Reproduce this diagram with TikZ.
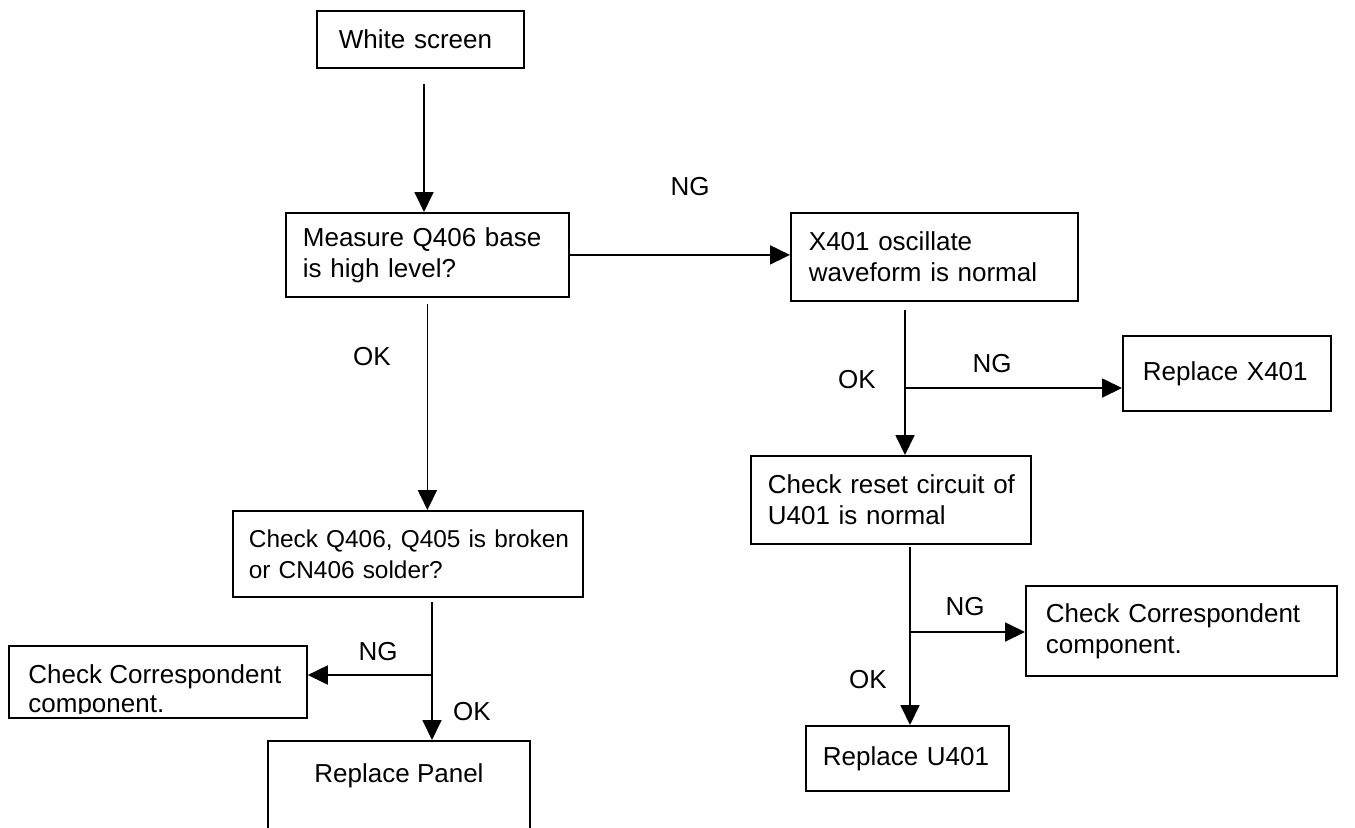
\documentclass[tikz,border=0pt]{standalone}
\usepackage{fontspec}
\setmainfont{Liberation Sans}
\usetikzlibrary{arrows.meta}
\hyphenpenalty=10000

\tikzset{
  stepbox/.style={draw, line width=0.9pt, anchor=north west, align=left, inner ysep=0pt},
  flow/.style={line width=0.9pt, -{Triangle[length=10pt,width=9.5pt]}},
  tag/.style={inner sep=0pt},
}

\begin{document}
\begin{tikzpicture}[x=0.5pt, y=-0.5pt, font=\fontsize{13}{15.5}\selectfont]
  \clip (0,0) rectangle (1355,827);

  % left column
  \node[stepbox, inner xsep=11pt, text width=81.5pt, minimum height=28.5pt] (white) at (316,10) {\mbox{White screen}};
  \node[stepbox, inner xsep=8.5pt, text width=124.5pt, minimum height=42pt] (measure) at (285,212) {\mbox{Measure Q406 base}\\\mbox{is high level?}};
  \node[stepbox, inner xsep=8pt, text width=159pt, minimum height=43pt, font=\fontsize{12.2}{15.5}\selectfont] (chkq) at (232,510) {\mbox{Check Q406, Q405 is broken}\\\mbox{or CN406 solder?}};
  \node[stepbox, minimum width=149pt, minimum height=36pt] (corrL) at (8,645) {};
  \begin{scope}
    \clip (8,645) rectangle (306,713);
    \node[tag, anchor=north west, align=left, font=\fontsize{13}{14.5}\selectfont] (corrLtxt) at (28,664) {\mbox{Check Correspondent}\\\mbox{component.}};
  \end{scope}
  \node[draw, line width=0.9pt, anchor=north, minimum width=131pt, inner ysep=0pt, text height=21pt, text depth=30pt] (panel) at (399,740) {Replace Panel};

  % right column
  \node[stepbox, inner xsep=9pt, text width=125.5pt, minimum height=44pt] (x401) at (790,212) {\mbox{X401 oscillate}\\\mbox{waveform is normal}};
  \node[stepbox, inner xsep=10pt, text width=84pt, minimum height=37.5pt] (repx) at (1122,335) {\mbox{Replace X401}};
  \node[stepbox, inner xsep=8.5pt, text width=123pt, minimum height=44pt] (reset) at (750,455) {\mbox{Check reset circuit of}\\\mbox{U401 is normal}};
  \node[stepbox, inner xsep=10pt, text width=135.5pt, minimum height=45pt] (corrR) at (1025,585) {\mbox{Check Correspondent}\\\mbox{component.}};
  \node[stepbox, inner xsep=8.5pt, text width=84.5pt, minimum height=32.5pt] (repu) at (805,725) {\mbox{Replace U401}};

  % branch points
  \coordinate (b0) at (424,150);
  \coordinate (b1) at (905,388);
  \coordinate (b2) at (910,632);
  \coordinate (b3) at (432,675);

  % connectors
  \draw[flow, shorten <=7.5pt] (white.south -| b0) -- (b0 |- measure.north);
  \draw[flow] (measure.east) -- (measure.east -| x401.west);
  \draw[flow, shorten <=3pt] (measure.south) -- (measure.south |- chkq.north);
  \draw[flow, shorten <=4pt] (x401.south -| b1) -- (b1 |- reset.north);
  \draw[flow] (b1) -- (b1 -| repx.west);
  \draw[flow, shorten <=1pt] (reset.south -| b2) -- (b2 |- repu.north);
  \draw[flow] (b2) -- (b2 -| corrR.west);
  \draw[flow, shorten <=2pt] (chkq.south -| b3) -- (b3 |- panel.north);
  \draw[flow] (b3) -- (b3 -| corrL.east);

  % labels
  \node[tag] (ng1) at (690,187) {NG};
  \node[tag] (ok1) at (372,357) {OK};
  \node[tag] (ng2) at (992,364) {NG};
  \node[tag] (ok2) at (857,380) {OK};
  \node[tag] (ng3) at (965,607) {NG};
  \node[tag] (ok3) at (868,680) {OK};
  \node[tag] (ng4) at (378,652) {NG};
  \node[tag] (ok4) at (472,712) {OK};
\end{tikzpicture}
\end{document}
